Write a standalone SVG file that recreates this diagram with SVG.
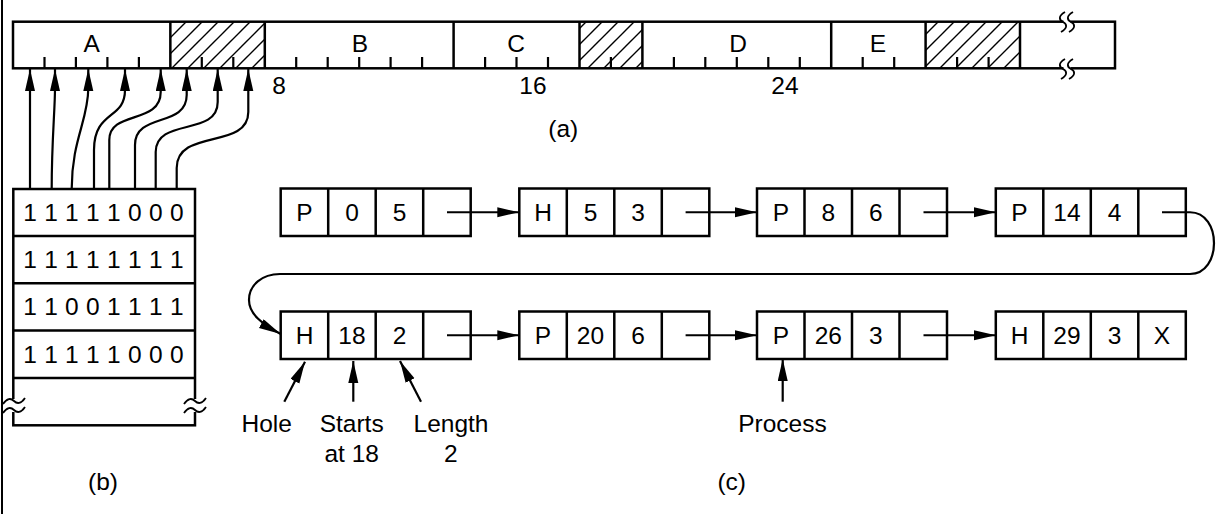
<svg xmlns="http://www.w3.org/2000/svg" width="1219" height="514" viewBox="0 0 1219 514">
<style>
  text { font-family: "Liberation Sans", Arial, sans-serif; font-size: 24.5px; fill: #000; text-anchor: middle; }
  .box { fill: none; stroke: #000; stroke-width: 2.5; }
  .ln { fill: none; stroke: #000; stroke-width: 2.5; }
  .tick { fill: none; stroke: #000; stroke-width: 2.2; }
  .conn { fill: none; stroke: #000; stroke-width: 2.2; marker-end: url(#ah); }
  .sq { fill: none; stroke: #000; stroke-width: 1.8; }
</style>
<defs>
  <pattern id="hatch" patternUnits="userSpaceOnUse" width="16" height="16">
    <path d="M-4,4 L4,-4 M0,16 L16,0 M12,20 L20,12" stroke="#000" stroke-width="1.4"/>
  </pattern>
  <marker id="ah" markerUnits="userSpaceOnUse" markerWidth="24" markerHeight="12" refX="22" refY="5" orient="auto">
    <path d="M0,0 L22,5 L0,10 Z" fill="#000"/>
  </marker>
</defs>
<rect width="1219" height="514" fill="#fff"/>
<line x1="2" y1="0" x2="2" y2="514" stroke="#000" stroke-width="2"/>

<!-- (a) memory bar -->
<g id="bar">
  <rect x="170.35" y="21.7" width="94.45" height="46.6" fill="url(#hatch)"/>
  <rect x="579.5" y="21.7" width="62.9" height="46.6" fill="url(#hatch)"/>
  <rect x="925.6" y="21.7" width="94.4" height="46.6" fill="url(#hatch)"/>
  <rect class="box" x="13" y="21.7" width="1102" height="46.6"/>
  <path class="ln" d="M170.35,21.7V68.3 M264.8,21.7V68.3 M453.6,21.7V68.3 M579.5,21.7V68.3 M642.4,21.7V68.3 M831.2,21.7V68.3 M925.6,21.7V68.3 M1020,21.7V68.3"/>
  <path class="tick" d="M44.5,57V68.3 M75.9,57V68.3 M107.4,57V68.3 M138.9,57V68.3 M201.8,57V68.3 M233.3,57V68.3 M296.2,57V68.3 M327.7,57V68.3 M359.2,57V68.3 M390.6,57V68.3 M422.1,57V68.3 M485.1,57V68.3 M516.5,57V68.3 M548,57V68.3 M610.9,57V68.3 M673.9,57V68.3 M705.3,57V68.3 M736.8,57V68.3 M768.3,57V68.3 M799.8,57V68.3 M862.7,57V68.3 M894.2,57V68.3 M957.1,57V68.3 M988.6,57V68.3"/>
  <rect x="1063.5" y="18" width="7" height="7" fill="#fff"/>
  <rect x="1063.5" y="64.6" width="7" height="7" fill="#fff"/>
  <path class="sq" d="M1065,12 C1058,16 1059,20 1063,22 C1067,24 1068,28 1061,32 M1073,12 C1066,16 1067,20 1071,22 C1075,24 1076,28 1069,32"/>
  <path class="sq" d="M1065,59 C1058,63 1059,67 1063,69 C1067,71 1068,75 1061,79 M1073,59 C1066,63 1067,67 1071,69 C1075,71 1076,75 1069,79"/>
  <text x="91.7" y="52">A</text>
  <text x="360" y="52">B</text>
  <text x="516" y="52">C</text>
  <text x="738" y="52">D</text>
  <text x="878" y="52">E</text>
  <text x="279" y="94">8</text>
  <text x="533" y="94">16</text>
  <text x="785" y="94">24</text>
  <text x="563.3" y="137">(a)</text>
</g>

<!-- (b) bitmap -->
<g id="bitmap">
  <rect class="box" x="13.3" y="189" width="181.7" height="236.3"/>
  <path class="ln" d="M13.3,236H195 M13.3,283.3H195 M13.3,330.5H195 M13.3,378H195"/>
  <rect x="9" y="399" width="9" height="13" fill="#fff"/>
  <rect x="190.5" y="399" width="9" height="13" fill="#fff"/>
  <path class="sq" d="M3,404 C7,398 11,398 14,401 C17,404 21,404 25,398 M3,413 C7,407 11,407 14,410 C17,413 21,413 25,407"/>
  <path class="sq" d="M184,404 C188,398 192,398 195,401 C198,404 202,404 206,398 M184,413 C188,407 192,407 195,410 C198,413 202,413 206,407"/>
  <text x="30 51 71.9 92.9 113.8 134.8 155.8 176.7" y="220.8">11111000</text>
  <text x="30 51 71.9 92.9 113.8 134.8 155.8 176.7" y="268">11111111</text>
  <text x="30 51 71.9 92.9 113.8 134.8 155.8 176.7" y="315.3">11001111</text>
  <text x="30 51 71.9 92.9 113.8 134.8 155.8 176.7" y="362.6">11111000</text>
  <text x="103" y="490">(b)</text>
</g>

<!-- (c) list nodes -->
<g id="n1"><rect class="box" x="280.7" y="188.5" width="190" height="47.5"/><path class="ln" d="M328.2,188.5V236 M375.7,188.5V236 M423.2,188.5V236"/><text x="304.5" y="221">P</text><text x="352" y="221">0</text><text x="399.5" y="221">5</text></g>
<g id="n2"><rect class="box" x="519.3" y="188.5" width="190" height="47.5"/><path class="ln" d="M566.8,188.5V236 M614.3,188.5V236 M661.8,188.5V236"/><text x="543" y="221">H</text><text x="590.5" y="221">5</text><text x="638" y="221">3</text></g>
<g id="n3"><rect class="box" x="757" y="188.5" width="190" height="47.5"/><path class="ln" d="M804.5,188.5V236 M852,188.5V236 M899.5,188.5V236"/><text x="780.8" y="221">P</text><text x="828.3" y="221">8</text><text x="875.8" y="221">6</text></g>
<g id="n4"><rect class="box" x="995.8" y="188.5" width="190" height="47.5"/><path class="ln" d="M1043.3,188.5V236 M1090.8,188.5V236 M1138.3,188.5V236"/><text x="1019.5" y="221">P</text><text x="1067" y="221">14</text><text x="1114.5" y="221">4</text></g>
<g id="n5"><rect class="box" x="280.7" y="311.5" width="190" height="47.5"/><path class="ln" d="M328.2,311.5V359 M375.7,311.5V359 M423.2,311.5V359"/><text x="304.5" y="344">H</text><text x="352" y="344">18</text><text x="399.5" y="344">2</text></g>
<g id="n6"><rect class="box" x="519.3" y="311.5" width="190" height="47.5"/><path class="ln" d="M566.8,311.5V359 M614.3,311.5V359 M661.8,311.5V359"/><text x="543" y="344">P</text><text x="590.5" y="344">20</text><text x="638" y="344">6</text></g>
<g id="n7"><rect class="box" x="757" y="311.5" width="190" height="47.5"/><path class="ln" d="M804.5,311.5V359 M852,311.5V359 M899.5,311.5V359"/><text x="780.8" y="344">P</text><text x="828.3" y="344">26</text><text x="875.8" y="344">3</text></g>
<g id="n8"><rect class="box" x="995.8" y="311.5" width="190" height="47.5"/><path class="ln" d="M1043.3,311.5V359 M1090.8,311.5V359 M1138.3,311.5V359"/><text x="1019.5" y="344">H</text><text x="1067" y="344">29</text><text x="1114.5" y="344">3</text><text x="1162" y="344">X</text></g>

<g id="labels">
  <text x="266.7" y="431.7">Hole</text>
  <text x="351.7" y="431.7">Starts</text>
  <text x="351.7" y="461.7">at 18</text>
  <text x="451" y="431.7">Length</text>
  <text x="450.7" y="461.7">2</text>
  <text x="782.5" y="431.7">Process</text>
  <text x="731.7" y="490">(c)</text>
</g>

<g id="connectors">
  <path class="conn" d="M30,189 V69"/>
  <path class="conn" d="M51.7,189 C51.7,140 55,110 55,88 V69"/>
  <path class="conn" d="M71.7,189 C71.7,140 88.3,120 88.3,88 V69"/>
  <path class="conn" d="M94,189 V150 C94,110 125,120 125,90 V69"/>
  <path class="conn" d="M109.3,189 V140 C109.3,110 160.7,125 160.7,92 V69"/>
  <path class="conn" d="M135,189 V145 C135,112 186.7,128 186.7,95 V69"/>
  <path class="conn" d="M155.7,189 V152 C155.7,117 217.7,137 217.7,102 V69"/>
  <path class="conn" d="M176.7,189 V168 C176.7,128 248.3,150 248.3,112 V69"/>

  <path class="conn" d="M447,212.25 H519.3"/>
  <path class="conn" d="M685.6,212.25 H757"/>
  <path class="conn" d="M923.5,212.25 H995.8"/>
  <path class="conn" d="M1162,212.25 H1190 C1222,212.25 1222,274 1190,274 H280 C262,274 249,285 249,300 C249,314 262,324 280.7,334"/>
  <path class="conn" d="M447,335.25 H519.3"/>
  <path class="conn" d="M685.6,335.25 H757"/>
  <path class="conn" d="M923.5,335.25 H995.8"/>

  <path class="conn" d="M284.3,401.7 L305,361.7"/>
  <path class="conn" d="M353.3,401.7 V361"/>
  <path class="conn" d="M421,401.7 L400,361"/>
  <path class="conn" d="M782.7,401.7 V359"/>
</g>
</svg>
